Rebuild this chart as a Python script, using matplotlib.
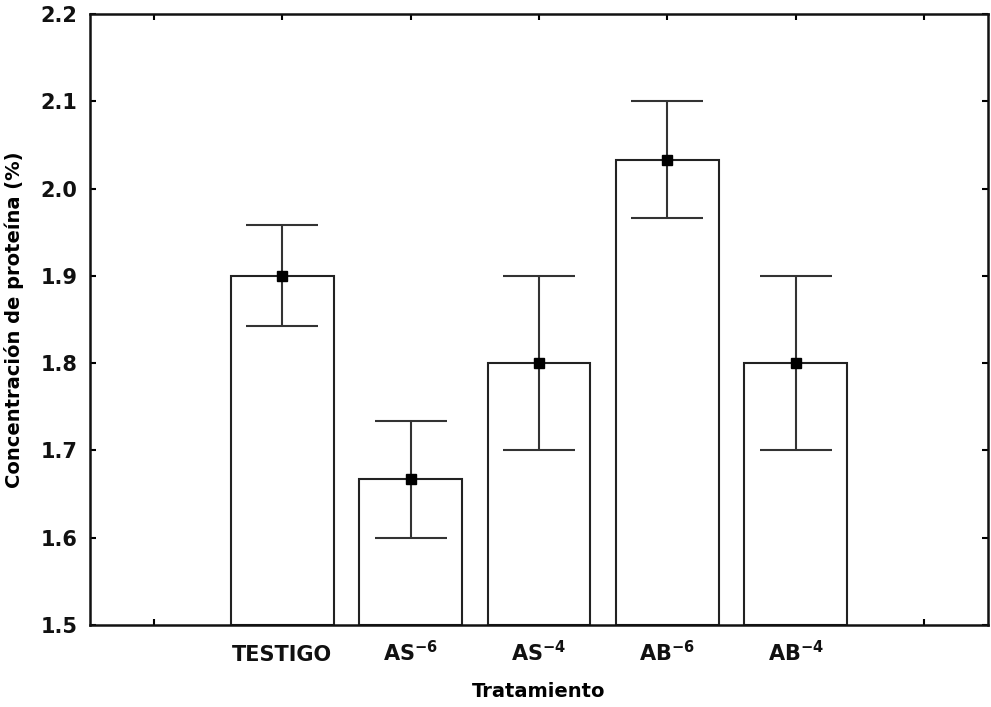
import matplotlib
matplotlib.use("Agg")
import matplotlib.pyplot as plt
import numpy as np

categories = ["TESTIGO", "AS$^{\\mathbf{-6}}$", "AS$^{\\mathbf{-4}}$", "AB$^{\\mathbf{-6}}$", "AB$^{\\mathbf{-4}}$"]
means = [1.900, 1.667, 1.800, 2.033, 1.800]
upper = [1.958, 1.734, 1.900, 2.100, 1.900]
lower = [1.842, 1.600, 1.700, 1.966, 1.700]
yticks = [1.5, 1.6, 1.7, 1.8, 1.9, 2.0, 2.1, 2.2]

fig = plt.figure(figsize=(9.91, 7.07), dpi=100)
ax = fig.add_axes([90/991, 82/707, 898/991, 611/707])

x = np.arange(1, len(categories) + 1)
ax.bar(x, [m - 1.5 for m in means], bottom=1.5, width=0.8, facecolor="white",
       edgecolor="#222222", linewidth=1.5, zorder=2)
yerr = np.array([[m - l for m, l in zip(means, lower)], [u - m for m, u in zip(means, upper)]])
ax.errorbar(x, means, yerr=yerr, fmt="s", color="black", ecolor="#333333",
            elinewidth=1.5, capsize=26, capthick=1.5, markersize=7.5, zorder=3)

ax.set_xlim(-0.5, 6.5)
ax.set_ylim(1.5, 2.2)
ax.set_xticks(np.arange(0, 7))
ax.set_xticklabels([""] + categories + [""])
ax.set_yticks(yticks)
ax.set_yticklabels([f"{t:.1f}" for t in yticks])
ax.tick_params(direction="in", length=4, width=1.5, top=True, right=True,
               labelsize=15, pad=9)
ax.tick_params(axis="x", pad=26)
for lbl in ax.get_xticklabels():
    lbl.set_verticalalignment("baseline")
for lbl in ax.get_xticklabels() + ax.get_yticklabels():
    lbl.set_fontweight("bold")
    lbl.set_color("#111111")
for s in ax.spines.values():
    s.set_linewidth(1.8)
    s.set_color("#111111")

ax.set_xlabel("Tratamiento", fontsize=14, fontweight="bold", labelpad=12)
ax.set_ylabel("Concentración de proteína (%)", fontsize=14, fontweight="bold", labelpad=12)

fig.savefig("out.png", dpi=100)
